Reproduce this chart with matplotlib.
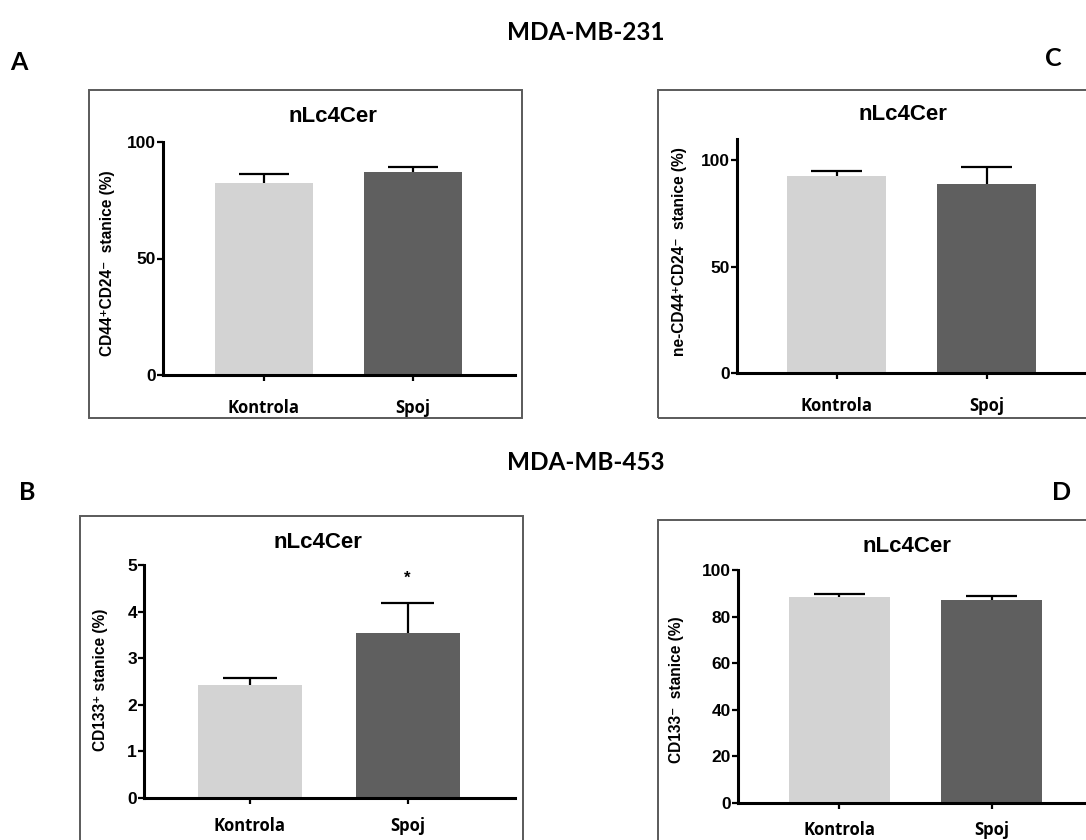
#!/usr/bin/env python3
# -*- coding: utf-8 -*-

import matplotlib
matplotlib.use("Agg")
import matplotlib.pyplot as plt
from matplotlib.patches import Rectangle

W, H = 1086, 840

groups = ["Kontrola", "Spoj"]
bar_colors = ["#d3d3d3", "#5f5f5f"]

# mean and upper error (SEM) for each panel
a_vals = [82.4, 87.1]
a_err = [3.9, 2.2]
c_vals = [92.5, 88.7]
c_err = [2.3, 8.0]
b_vals = [2.42, 3.54]
b_err = [0.15, 0.64]
d_vals = [88.4, 87.1]
d_err = [1.3, 1.7]

plt.rcParams["font.family"] = ["Liberation Sans", "DejaVu Sans"]
plt.rcParams["font.weight"] = "bold"

fig = plt.figure(figsize=(W / 100, H / 100), dpi=100)


def px_axes(x0, y_top, x1, y_bot):
    # axes placed in pixel coordinates of the figure
    return fig.add_axes([x0 / W, 1 - y_bot / H, (x1 - x0) / W, (y_bot - y_top) / H])


def frame(x0, y0, x1, y1):
    fig.patches.append(Rectangle((x0 / W, 1 - y1 / H), (x1 - x0) / W, (y1 - y0) / H,
                                 transform=fig.transFigure, fill=False,
                                 edgecolor="#5a5a5a", linewidth=1.4))


def panel(ax, vals, err, xlim, ylim, yticks, ylabel, label_xy, title, title_xy,
          star=None, xpad=12):
    x = [0, 1]
    ax.bar(x, vals, width=0.66, color=bar_colors, zorder=2)
    # upper error bars only
    tops = [v + e for v, e in zip(vals, err)]
    ax.vlines(x, vals, tops, color="black", linewidth=1.6, zorder=3)
    ax.hlines(tops, [i - 0.17 for i in x], [i + 0.17 for i in x],
              color="black", linewidth=1.6, zorder=3)
    ax.set_xlim(*xlim)
    ax.set_ylim(*ylim)
    ax.set_yticks(yticks)
    ax.set_xticks(x)
    ax.set_xticklabels(groups, fontsize=12, fontfamily=["Open Sans", "DejaVu Sans"],
                       fontweight="bold")
    for s in ["top", "right"]:
        ax.spines[s].set_visible(False)
    for s in ["left", "bottom"]:
        ax.spines[s].set_linewidth(2.2)
    ax.tick_params(axis="y", length=4, width=1.6, pad=1, labelsize=12.5)
    ax.tick_params(axis="x", length=4, width=1.6, pad=xpad)
    ax.set_ylabel(ylabel, fontsize=11.2, fontweight="bold")
    ax.yaxis.set_label_coords(*label_xy)
    ax.patch.set_alpha(0)
    fig.text(title_xy[0] / W, 1 - title_xy[1] / H, title, ha="center", va="center",
             fontsize=16, fontweight="bold")
    if star is not None:
        ax.text(1, star, "*", ha="center", va="center", fontsize=12, fontweight="bold")


# frames around the panels
frame(89, 90, 522, 418)
frame(658, 90, 1095, 418)
frame(80, 516, 523, 850)
frame(658, 520, 1095, 850)

ax_a = px_axes(163, 142, 515, 375)
panel(ax_a, a_vals, a_err, (-0.678, 1.685), (0, 100), [0, 50, 100],
      "CD44\u207aCD24\u207b  stanice (%)", (-0.136, 0.48), "nLc4Cer", (333, 117),
      xpad=13)

ax_c = px_axes(737, 139, 1086, 373)
panel(ax_c, c_vals, c_err, (-0.663, 1.66), (0, 110), [0, 50, 100],
      "ne-CD44\u207aCD24\u207b  stanice (%)", (-0.143, 0.517), "nLc4Cer", (903, 115),
      xpad=13)

ax_b = px_axes(144, 565, 515, 798)
panel(ax_b, b_vals, b_err, (-0.67, 1.68), (0, 5), [0, 1, 2, 3, 4, 5],
      "CD133\u207a stanice (%)", (-0.097, 0.506), "nLc4Cer", (318, 542), star=4.72,
      xpad=10)

ax_d = px_axes(738, 570, 1086, 803)
panel(ax_d, d_vals, d_err, (-0.666, 1.62), (0, 100), [0, 20, 40, 60, 80, 100],
      "CD133\u207b  stanice (%)", (-0.155, 0.485), "nLc4Cer", (907, 547), xpad=9)

# headers and panel letters
hdr = dict(ha="center", va="center", fontweight="bold",
           fontfamily=["Lato", "DejaVu Sans"])
fig.text(586 / W, 1 - 33 / H, "MDA-MB-231", fontsize=17.5, **hdr)
fig.text(586 / W, 1 - 462 / H, "MDA-MB-453", fontsize=17.5, **hdr)
fig.text(19 / W, 1 - 63 / H, "A", fontsize=18, **hdr)
fig.text(1053 / W, 1 - 58 / H, "C", fontsize=18, **hdr)
fig.text(27 / W, 1 - 492 / H, "B", fontsize=18, **hdr)
fig.text(1062 / W, 1 - 493 / H, "D", fontsize=18, **hdr)

fig.savefig("out.png", dpi=100, facecolor="white")
